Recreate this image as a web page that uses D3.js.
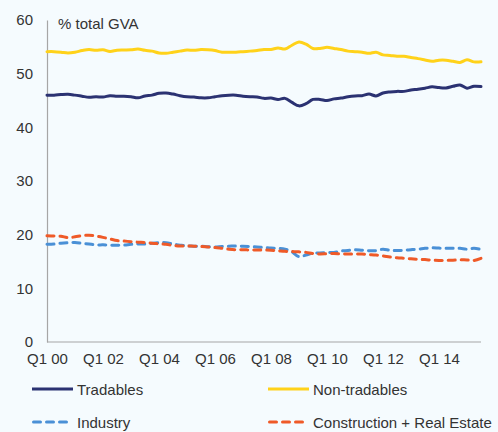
<!DOCTYPE html>
<html>
<head>
<meta charset="utf-8">
<script src="https://cdn.jsdelivr.net/npm/d3@7"></script>
<style>
  body { margin: 0; background: #f5fbfe; }
  svg { display: block; font-family: Arial, "Liberation Sans", sans-serif; }
</style>
</head>
<body>
<svg id="chart" width="498" height="432"></svg>
<script>
// Quarterly shares, Q1 2000 .. Q3 2015
const tradables = [46.0, 46.0, 46.1, 46.15, 46.0, 45.8, 45.6, 45.7, 45.65, 45.9,
  45.8, 45.8, 45.7, 45.5, 45.85, 46.0, 46.35, 46.4, 46.2, 45.9,
  45.7, 45.65, 45.5, 45.5, 45.7, 45.9, 46.0, 46.0, 45.8, 45.7,
  45.65, 45.4, 45.45, 45.2, 45.4, 44.65, 44.0, 44.4, 45.2, 45.2,
  45.0, 45.3, 45.45, 45.7, 45.85, 45.9, 46.2, 45.85, 46.4, 46.6,
  46.7, 46.7, 46.95, 47.1, 47.3, 47.55, 47.4, 47.35, 47.65, 47.9,
  47.3, 47.65, 47.6];
const nonTradables = [54.1, 54.1, 54.0, 53.85, 54.0, 54.3, 54.5, 54.35, 54.45, 54.15,
  54.35, 54.4, 54.45, 54.6, 54.35, 54.2, 53.85, 53.8, 54.0, 54.2,
  54.4, 54.35, 54.5, 54.45, 54.3, 54.0, 54.0, 54.0, 54.1, 54.2,
  54.3, 54.5, 54.5, 54.8, 54.6, 55.3, 55.9, 55.5, 54.7, 54.7,
  54.9, 54.7, 54.5, 54.2, 54.1, 54.0, 53.8, 54.0, 53.5, 53.4,
  53.25, 53.25, 53.0, 52.8, 52.55, 52.3, 52.5, 52.5, 52.3, 52.1,
  52.6, 52.2, 52.2];
const industry = [18.2, 18.25, 18.4, 18.5, 18.55, 18.4, 18.25, 18.1, 18.1, 18.05,
  18.05, 18.05, 18.2, 18.25, 18.25, 18.4, 18.5, 18.5, 18.25, 18.05,
  17.9, 17.85, 17.85, 17.75, 17.7, 17.8, 17.85, 17.9, 17.85, 17.8,
  17.7, 17.6, 17.5, 17.45, 17.3, 16.8, 15.9, 16.2, 16.55, 16.6,
  16.65, 16.7, 16.95, 17.05, 17.2, 17.1, 17.02, 17.02, 17.3, 17.1,
  17.05, 17.1, 17.2, 17.3, 17.45, 17.55, 17.5, 17.45, 17.45, 17.45,
  17.3, 17.45, 17.25];
const construction = [19.8, 19.75, 19.7, 19.45, 19.6, 19.8, 19.9, 19.75, 19.5, 19.2,
  18.9, 18.8, 18.7, 18.6, 18.55, 18.4, 18.3, 18.2, 18.0, 17.9,
  17.9, 17.85, 17.8, 17.7, 17.6, 17.45, 17.3, 17.2, 17.2, 17.15,
  17.15, 17.15, 17.1, 17.0, 16.9, 16.85, 16.8, 16.7, 16.5, 16.4,
  16.45, 16.5, 16.4, 16.4, 16.4, 16.4, 16.3, 16.2, 16.05, 15.85,
  15.7, 15.6, 15.5, 15.4, 15.35, 15.25, 15.2, 15.2, 15.25, 15.3,
  15.3, 15.2, 15.6];

const yTicks = [0, 10, 20, 30, 40, 50, 60];
const xTickLabels = ["Q1 00", "Q1 02", "Q1 04", "Q1 06", "Q1 08", "Q1 10", "Q1 12", "Q1 14"];

// build quarter labels for the x domain
const quarters = tradables.map((d, i) => "Q" + (i % 4 + 1) + " " + String(Math.floor(i / 4)).padStart(2, "0"));

const series = [
  { name: "Tradables", values: tradables, color: "#2b3272", dash: null },
  { name: "Non-tradables", values: nonTradables, color: "#ffd21a", dash: null },
  { name: "Industry", values: industry, color: "#4a90d6", dash: "7,6" },
  { name: "Construction + Real Estate", values: construction, color: "#ef5a28", dash: "7,6" }
];

const svg = d3.select("#chart");
const plotLeft = 47, plotRight = 481, plotTop = 20, plotBottom = 342;

const x = d3.scalePoint().domain(quarters).range([plotLeft, plotLeft + 7 * (quarters.length - 1)]);
const y = d3.scaleLinear().domain([0, 60]).range([plotBottom, plotTop]);

// axes
const yAxis = svg.append("g")
  .attr("transform", `translate(${plotLeft},0)`)
  .call(d3.axisLeft(y).tickValues(yTicks).tickSize(0).tickPadding(14));
yAxis.select(".domain").attr("stroke", "#a6a6a6").attr("stroke-width", 1.2);
yAxis.selectAll("text").style("font-size", "15px").attr("fill", "#333");

const xAxis = svg.append("g")
  .attr("transform", `translate(0,${plotBottom})`)
  .call(d3.axisBottom(x).tickValues(xTickLabels).tickSize(0).tickPadding(11));
xAxis.select(".domain").attr("stroke", "#a6a6a6").attr("stroke-width", 1.2)
  .attr("d", `M${plotLeft},0H${plotRight}`);
xAxis.selectAll("text").style("font-size", "15px").attr("fill", "#333");

svg.append("text")
  .attr("x", 58).attr("y", 29)
  .style("font-size", "15px").attr("fill", "#333")
  .text("% total GVA");

// lines
const line = d3.line()
  .x((d, i) => x(quarters[i]))
  .y(d => y(d))
  .curve(d3.curveCatmullRom.alpha(0.5));

series.forEach(s => {
  svg.append("path")
    .datum(s.values)
    .attr("fill", "none")
    .attr("stroke", s.color)
    .attr("stroke-width", 3)
    .attr("stroke-linecap", "round")
    .attr("stroke-dasharray", s.dash)
    .attr("d", line);
});

// legend
const legendPos = [[32, 389], [268, 389], [32, 422], [268, 422]];
series.forEach((s, i) => {
  const [lx, ly] = legendPos[i];
  const g = svg.append("g").attr("transform", `translate(${lx},${ly})`);
  g.append("line")
    .attr("x1", s.dash ? 1.5 : 0).attr("x2", s.dash ? 36 : 41)
    .attr("stroke", s.color).attr("stroke-width", 3)
    .attr("stroke-linecap", s.dash ? "round" : "butt")
    .attr("stroke-dasharray", s.dash);
  g.append("text")
    .attr("x", 45).attr("y", 5.5)
    .style("font-size", "15px").attr("fill", "#333")
    .text(s.name);
});
</script>
</body>
</html>
